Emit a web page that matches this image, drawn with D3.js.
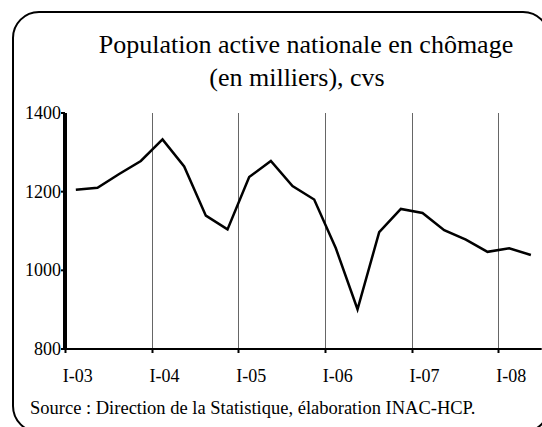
<!DOCTYPE html>
<html>
<head>
<meta charset="utf-8">
<script src="https://cdn.jsdelivr.net/npm/d3@7"></script>
<style>
	body { margin: 0; background: #fff; }
	svg { display: block; }
</style>
</head>
<body>
<svg id="chart" width="542" height="427"></svg>
<script>
// quarters from I-03 to II-08
const years = ['03', '04', '05', '06', '07', '08'];
const quarterNames = ['I', 'II', 'III', 'IV'];
const categories = [];
years.forEach((y) => quarterNames.forEach((q) => categories.push(q + '-' + y)));
categories.splice(22); // last point is II-08

// unemployed, thousands, seasonally adjusted
const values = [
	1205, 1210, 1245, 1278,
	1333, 1264, 1139, 1104,
	1237, 1278, 1214, 1180,
	1056, 901, 1097, 1156,
	1146, 1102, 1078, 1047,
	1056, 1039,
];

const yTicks = [800, 1000, 1200, 1400];

const FONT = 'Liberation Serif';

const svg = d3.select('#chart');

// rounded frame
svg.append('rect')
	.attr('x', 13).attr('y', 12)
	.attr('width', 536).attr('height', 420)
	.attr('rx', 26).attr('ry', 26)
	.attr('fill', 'none')
	.attr('stroke', '#000')
	.attr('stroke-width', 2);

const title = svg.append('text')
	.attr('text-anchor', 'middle')
	.attr('font-family', FONT)
	.attr('font-size', 26)
	.attr('fill', '#000');
title.append('tspan').attr('x', 306).attr('y', 53).text('Population active nationale en chômage');
title.append('tspan').attr('x', 297).attr('y', 86).text('(en milliers), cvs');

const plot = { left: 65, right: 541.7, top: 113, bottom: 349 };

const x = d3.scaleBand().domain(categories).range([plot.left, plot.right]).padding(0);
const y = d3.scaleLinear().domain([800, 1400]).range([plot.bottom, plot.top]);
const cx = (c) => x(c) + x.bandwidth() / 2;

const yearStarts = categories.filter((c) => c.startsWith('I-'));

// vertical grid at each year start (except first)
svg.append('g')
	.selectAll('line')
	.data(yearStarts.slice(1))
	.join('line')
	.attr('x1', (c) => Math.round(x(c)) + 0.5)
	.attr('x2', (c) => Math.round(x(c)) + 0.5)
	.attr('y1', plot.top)
	.attr('y2', plot.bottom)
	.attr('stroke', '#666')
	.attr('stroke-width', 1);

// x axis
svg.append('line')
	.attr('x1', plot.left).attr('x2', plot.right)
	.attr('y1', plot.bottom).attr('y2', plot.bottom)
	.attr('stroke', '#000').attr('stroke-width', 2);

svg.append('g')
	.selectAll('line')
	.data(yearStarts)
	.join('line')
	.attr('x1', (c) => Math.round(x(c)) + 0.5)
	.attr('x2', (c) => Math.round(x(c)) + 0.5)
	.attr('y1', plot.bottom)
	.attr('y2', plot.bottom + 4)
	.attr('stroke', '#000')
	.attr('stroke-width', 2);

svg.append('g')
	.selectAll('text')
	.data(yearStarts)
	.join('text')
	.attr('x', (c) => cx(c) + 2)
	.attr('y', 382)
	.attr('text-anchor', 'middle')
	.attr('font-family', FONT)
	.attr('font-size', 18)
	.text((c) => c);

// y axis
svg.append('line')
	.attr('x1', plot.left).attr('x2', plot.left)
	.attr('y1', plot.top).attr('y2', plot.bottom + 1)
	.attr('stroke', '#000').attr('stroke-width', 4);

svg.append('g')
	.selectAll('line')
	.data(yTicks)
	.join('line')
	.attr('x1', plot.left - 4)
	.attr('x2', plot.left)
	.attr('y1', (d) => y(d))
	.attr('y2', (d) => y(d))
	.attr('stroke', '#000')
	.attr('stroke-width', 2);

svg.append('g')
	.selectAll('text')
	.data(yTicks)
	.join('text')
	.attr('x', 61)
	.attr('y', (d) => y(d) + 6)
	.attr('text-anchor', 'end')
	.attr('font-family', FONT)
	.attr('font-size', 18)
	.text((d) => d);

// the series
svg.append('path')
	.datum(values)
	.attr('fill', 'none')
	.attr('stroke', '#000')
	.attr('stroke-width', 2.5)
	.attr('stroke-linejoin', 'miter')
	.attr('d', d3.line().x((d, i) => cx(categories[i])).y((d) => y(d)));

svg.append('text')
	.attr('x', 30)
	.attr('y', 414)
	.attr('font-family', FONT)
	.attr('font-size', 18.5)
	.text('Source : Direction de la Statistique, élaboration INAC-HCP.');
</script>
</body>
</html>
